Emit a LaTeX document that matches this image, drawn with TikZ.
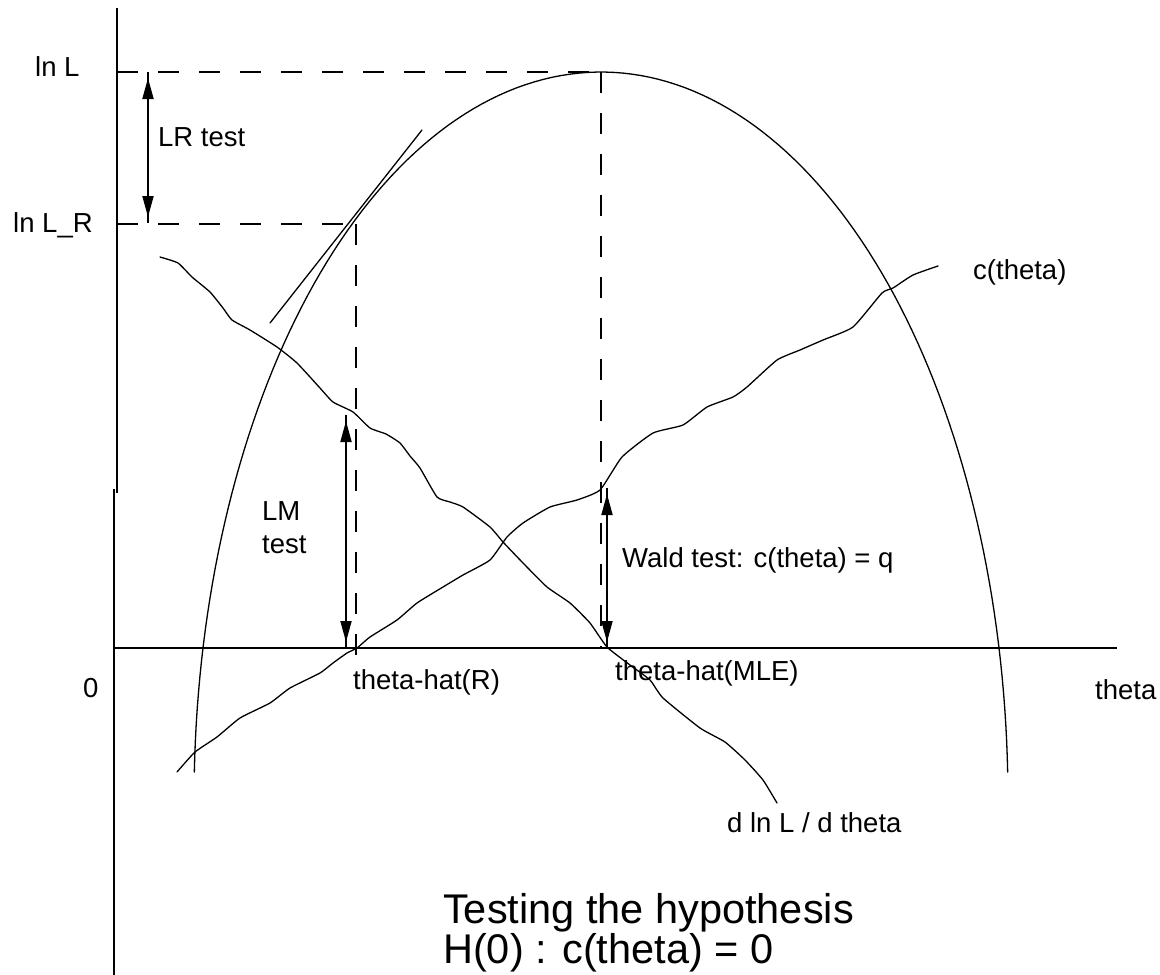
\documentclass[tikz,border=0pt]{standalone}
\usepackage{fontspec}
\setmainfont{Liberation Sans}
\usetikzlibrary{arrows.meta}
\begin{document}
\begin{tikzpicture}[x=1pt,y=-1pt,
  lbl/.style={inner sep=0pt, anchor=base west, font=\fontsize{27.5}{30}\selectfont},
  ttl/.style={inner sep=0pt, anchor=base west, font=\fontsize{41.5}{40}\selectfont},
  axis/.style={line width=1.8pt},
  curve/.style={line width=1.3pt, line join=round, line cap=round},
  guide/.style={line width=1.8pt, dash pattern=on 21pt off 20pt},
  stem/.style={line width=1.8pt},
  heads/.style={line width=1.8pt, {Triangle[length=21pt,width=11pt]}-{Triangle[length=21pt,width=11pt]}, shorten <=6pt, shorten >=6pt},
]
\useasboundingbox (0,0) rectangle (1160,975);

% axes
\coordinate (yTop) at (117,8);
\coordinate (yMid) at (117,493);
\coordinate (yMid2) at (114,489);
\coordinate (yBot) at (114,975);
\coordinate (xL) at (114,648);
\coordinate (xR) at (1117,648);
\draw[axis] (yTop) -- (yMid);
\draw[axis] (yMid2) -- (yBot);
\draw[axis] (xL) -- (xR);

% guide coordinates
\coordinate (lnL0) at (117,72);
\coordinate (peak) at (601,72);
\coordinate (mleAx) at (601,648);
\coordinate (lnR0) at (117,224);
\coordinate (rPt) at (356,224);
\coordinate (rAx) at (356,658);
\draw[guide] (lnL0) -- (peak);
\draw[guide] (peak) -- (mleAx);
\draw[guide] (lnR0) -- (rPt);
\draw[guide] (rPt) -- (rAx);

% log-likelihood curve
\draw[curve] plot[domain=2.2:177.8, samples=140] ({601+407*cos(\x)},{800-728*sin(\x)});

% tangent
\coordinate (tanA) at (270,323);
\coordinate (tanB) at (422,130);
\draw[curve] (tanA) -- (tanB);

% d ln L / d theta
\draw[curve] plot[smooth, tension=0.3] coordinates {
 (160,257) (178,263) (192,277) (210,292) (223,308) (232,320) (250,330) (277,347)
 (297,363) (320,388) (333,402) (353,412) (370,428) (386,434) (400,443) (410,456)
 (420,468) (437,497) (450,502) (463,507) (490,527) (503,542) (523,563) (547,587)
 (570,603) (590,623) (607,647) (630,665) (650,680) (663,698) (700,728) (725,742)
 (745,760) (763,780) (777,803)};

% c(theta)
\draw[curve] plot[smooth, tension=0.3] coordinates {
 (177,772) (195,752) (217,737) (240,718) (270,703) (290,688) (320,673) (333,663)
 (347,653) (357,648) (370,637) (397,620) (417,603) (443,587) (463,575) (490,560)
 (507,537) (523,523) (550,507) (577,500) (600,490) (622,457) (653,433) (683,425)
 (707,407) (733,397) (747,387) (777,360) (800,350) (823,340) (853,327) (882,293)
 (893,288) (913,275) (938,266)};

% test arrows
\coordinate (lrT) at (148,72);
\coordinate (lrB) at (148,223);
\coordinate (lmT) at (346,415);
\coordinate (lmB) at (346,648);
\coordinate (wT) at (607,488);
\coordinate (wB) at (607,648);
\draw[stem] (lrT) -- (lrB);
\draw[heads] (lrT) -- (lrB);
\draw[stem] (lmT) -- (lmB);
\draw[heads] (lmT) -- (lmB);
\draw[stem] (wT) -- (wB);
\draw[heads] (wT) -- (wB);

% labels
\node[lbl] (tLnL) at (35,76) {ln L};
\node[lbl] (tLnLR) at (13,232) {ln L\_R};
\node[lbl] (tLR) at (158,146) {LR test};
\node[lbl] (tLM) at (262,520) {LM};
\node[lbl] (tLMb) at (262,553) {test};
\node[lbl] (tWald) at (622,567) {Wald test: c(theta) = q};
\node[lbl] (tHR) at (353,689) {theta-hat(R)};
\node[lbl] (tMLE) at (615,680) {theta-hat(MLE)};
\node[lbl] (tC) at (973,279) {c(theta)};
\node[lbl] (tZero) at (83,697) {0};
\node[lbl] (tTheta) at (1095,699) {theta};
\node[lbl] (tDer) at (727,832) {d ln L / d theta};
\node[ttl] (title1) at (443,923) {Testing the hypothesis};
\node[ttl] (title2) at (443,963) {H(0) : c(theta) = 0};
\end{tikzpicture}
\end{document}
